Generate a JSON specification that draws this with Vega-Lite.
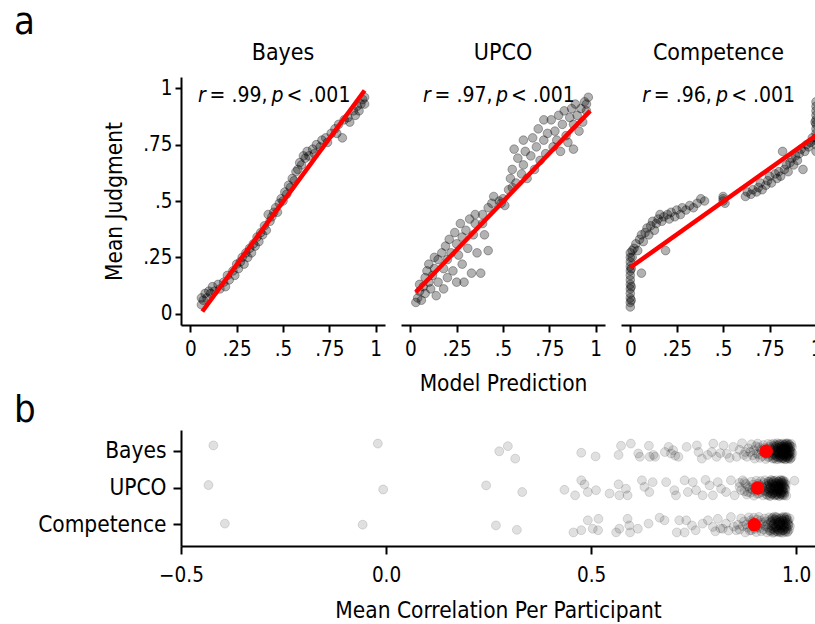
{
"$schema": "https://vega.github.io/schema/vega-lite/v6.json",
"background": "white",
"padding": {"left": 14, "top": 4, "right": 0, "bottom": 0},
"spacing": -3,
"config": {
  "font": "DejaVu Sans Condensed, DejaVu Sans, sans-serif",
  "view": {"stroke": null},
  "axis": {"grid": false, "domainColor": "black", "domainWidth": 2, "tickColor": "black", "tickWidth": 2, "tickSize": 7, "labelColor": "black", "labelFontSize": 20.5, "labelFlush": false, "labelOverlap": false, "titleFontSize": 22.5, "titleFontWeight": "normal", "titleColor": "black", "labelPadding": 7, "titlePadding": 13},
  "title": {"fontSize": 23, "fontWeight": "normal", "color": "black", "offset": 12}
},
"datasets": {
  "bayesA": [{"x":0.06,"y":0.04},{"x":0.06,"y":0.07},{"x":0.07,"y":0.06},{"x":0.08,"y":0.09},{"x":0.09,"y":0.07},{"x":0.10,"y":0.10},{"x":0.11,"y":0.09},{"x":0.12,"y":0.12},{"x":0.13,"y":0.10},{"x":0.15,"y":0.13},{"x":0.16,"y":0.11},{"x":0.18,"y":0.14},{"x":0.19,"y":0.12},{"x":0.20,"y":0.17},{"x":0.21,"y":0.15},{"x":0.23,"y":0.19},{"x":0.24,"y":0.17},{"x":0.25,"y":0.22},{"x":0.26,"y":0.20},{"x":0.27,"y":0.23},{"x":0.28,"y":0.25},{"x":0.29,"y":0.22},{"x":0.30,"y":0.27},{"x":0.31,"y":0.25},{"x":0.32,"y":0.29},{"x":0.33,"y":0.27},{"x":0.34,"y":0.31},{"x":0.35,"y":0.30},{"x":0.36,"y":0.34},{"x":0.37,"y":0.32},{"x":0.38,"y":0.36},{"x":0.39,"y":0.35},{"x":0.40,"y":0.39},{"x":0.41,"y":0.37},{"x":0.42,"y":0.44},{"x":0.43,"y":0.41},{"x":0.44,"y":0.43},{"x":0.45,"y":0.45},{"x":0.46,"y":0.47},{"x":0.47,"y":0.45},{"x":0.48,"y":0.49},{"x":0.49,"y":0.51},{"x":0.50,"y":0.50},{"x":0.51,"y":0.54},{"x":0.52,"y":0.53},{"x":0.53,"y":0.57},{"x":0.54,"y":0.56},{"x":0.55,"y":0.60},{"x":0.56,"y":0.59},{"x":0.57,"y":0.63},{"x":0.58,"y":0.64},{"x":0.59,"y":0.67},{"x":0.60,"y":0.66},{"x":0.61,"y":0.70},{"x":0.62,"y":0.69},{"x":0.63,"y":0.72},{"x":0.64,"y":0.70},{"x":0.66,"y":0.73},{"x":0.67,"y":0.71},{"x":0.68,"y":0.75},{"x":0.70,"y":0.74},{"x":0.71,"y":0.77},{"x":0.73,"y":0.78},{"x":0.74,"y":0.76},{"x":0.76,"y":0.80},{"x":0.78,"y":0.82},{"x":0.79,"y":0.80},{"x":0.80,"y":0.84},{"x":0.82,"y":0.78},{"x":0.83,"y":0.86},{"x":0.85,"y":0.87},{"x":0.86,"y":0.85},{"x":0.88,"y":0.90},{"x":0.89,"y":0.88},{"x":0.90,"y":0.92},{"x":0.91,"y":0.90},{"x":0.92,"y":0.93},{"x":0.93,"y":0.95},{"x":0.94,"y":0.93},{"x":0.94,"y":0.96}],
  "upcoA": [{"x":0.03,"y":0.05},{"x":0.04,"y":0.07},{"x":0.05,"y":0.10},{"x":0.05,"y":0.13},{"x":0.06,"y":0.06},{"x":0.07,"y":0.12},{"x":0.08,"y":0.16},{"x":0.08,"y":0.09},{"x":0.09,"y":0.19},{"x":0.10,"y":0.14},{"x":0.10,"y":0.22},{"x":0.11,"y":0.11},{"x":0.12,"y":0.17},{"x":0.13,"y":0.25},{"x":0.13,"y":0.20},{"x":0.14,"y":0.08},{"x":0.15,"y":0.24},{"x":0.15,"y":0.14},{"x":0.17,"y":0.27},{"x":0.18,"y":0.20},{"x":0.18,"y":0.11},{"x":0.19,"y":0.30},{"x":0.20,"y":0.24},{"x":0.20,"y":0.16},{"x":0.21,"y":0.33},{"x":0.22,"y":0.27},{"x":0.23,"y":0.19},{"x":0.24,"y":0.36},{"x":0.25,"y":0.31},{"x":0.25,"y":0.14},{"x":0.26,"y":0.26},{"x":0.27,"y":0.40},{"x":0.28,"y":0.34},{"x":0.28,"y":0.22},{"x":0.29,"y":0.14},{"x":0.30,"y":0.37},{"x":0.31,"y":0.29},{"x":0.32,"y":0.42},{"x":0.33,"y":0.18},{"x":0.34,"y":0.35},{"x":0.35,"y":0.44},{"x":0.35,"y":0.40},{"x":0.36,"y":0.27},{"x":0.38,"y":0.18},{"x":0.39,"y":0.44},{"x":0.39,"y":0.40},{"x":0.40,"y":0.35},{"x":0.42,"y":0.47},{"x":0.42,"y":0.28},{"x":0.44,"y":0.49},{"x":0.45,"y":0.52},{"x":0.48,"y":0.50},{"x":0.49,"y":0.49},{"x":0.50,"y":0.51},{"x":0.51,"y":0.48},{"x":0.53,"y":0.55},{"x":0.54,"y":0.60},{"x":0.55,"y":0.56},{"x":0.55,"y":0.64},{"x":0.56,"y":0.73},{"x":0.57,"y":0.58},{"x":0.58,"y":0.69},{"x":0.60,"y":0.62},{"x":0.61,"y":0.77},{"x":0.61,"y":0.66},{"x":0.62,"y":0.72},{"x":0.63,"y":0.60},{"x":0.65,"y":0.70},{"x":0.66,"y":0.78},{"x":0.67,"y":0.64},{"x":0.68,"y":0.74},{"x":0.69,"y":0.82},{"x":0.70,"y":0.68},{"x":0.72,"y":0.86},{"x":0.72,"y":0.77},{"x":0.73,"y":0.71},{"x":0.74,"y":0.80},{"x":0.76,"y":0.86},{"x":0.77,"y":0.74},{"x":0.78,"y":0.81},{"x":0.79,"y":0.77},{"x":0.80,"y":0.88},{"x":0.81,"y":0.72},{"x":0.82,"y":0.84},{"x":0.83,"y":0.90},{"x":0.84,"y":0.79},{"x":0.85,"y":0.76},{"x":0.86,"y":0.87},{"x":0.87,"y":0.91},{"x":0.88,"y":0.73},{"x":0.88,"y":0.84},{"x":0.89,"y":0.93},{"x":0.90,"y":0.88},{"x":0.91,"y":0.81},{"x":0.92,"y":0.91},{"x":0.93,"y":0.85},{"x":0.94,"y":0.94},{"x":0.95,"y":0.90},{"x":0.96,"y":0.96},{"x":0.95,"y":0.93}],
  "compA": [{"x":0.0,"y":0.03},{"x":0.0,"y":0.05},{"x":0.0,"y":0.07},{"x":0.0,"y":0.09},{"x":0.0,"y":0.11},{"x":0.0,"y":0.13},{"x":0.0,"y":0.15},{"x":0.0,"y":0.17},{"x":0.0,"y":0.19},{"x":0.0,"y":0.21},{"x":0.0,"y":0.23},{"x":0.0,"y":0.25},{"x":0.0,"y":0.27},{"x":0.005,"y":0.06},{"x":0.005,"y":0.12},{"x":0.005,"y":0.20},{"x":0.01,"y":0.28},{"x":0.01,"y":0.25},{"x":0.02,"y":0.29},{"x":0.03,"y":0.31},{"x":0.04,"y":0.28},{"x":0.05,"y":0.33},{"x":0.06,"y":0.35},{"x":0.06,"y":0.18},{"x":0.07,"y":0.32},{"x":0.08,"y":0.36},{"x":0.09,"y":0.38},{"x":0.10,"y":0.35},{"x":0.11,"y":0.39},{"x":0.12,"y":0.41},{"x":0.13,"y":0.37},{"x":0.14,"y":0.40},{"x":0.15,"y":0.42},{"x":0.16,"y":0.44},{"x":0.17,"y":0.41},{"x":0.18,"y":0.43},{"x":0.19,"y":0.28},{"x":0.20,"y":0.44},{"x":0.21,"y":0.42},{"x":0.22,"y":0.45},{"x":0.24,"y":0.43},{"x":0.25,"y":0.46},{"x":0.27,"y":0.44},{"x":0.28,"y":0.47},{"x":0.30,"y":0.46},{"x":0.32,"y":0.48},{"x":0.34,"y":0.47},{"x":0.36,"y":0.49},{"x":0.38,"y":0.51},{"x":0.40,"y":0.50},{"x":0.50,"y":0.50},{"x":0.50,"y":0.51},{"x":0.51,"y":0.49},{"x":0.50,"y":0.52},{"x":0.62,"y":0.52},{"x":0.63,"y":0.54},{"x":0.65,"y":0.53},{"x":0.66,"y":0.55},{"x":0.68,"y":0.54},{"x":0.69,"y":0.56},{"x":0.70,"y":0.58},{"x":0.71,"y":0.55},{"x":0.73,"y":0.57},{"x":0.74,"y":0.59},{"x":0.75,"y":0.61},{"x":0.76,"y":0.58},{"x":0.78,"y":0.62},{"x":0.79,"y":0.60},{"x":0.80,"y":0.63},{"x":0.81,"y":0.61},{"x":0.82,"y":0.72},{"x":0.83,"y":0.64},{"x":0.84,"y":0.66},{"x":0.85,"y":0.63},{"x":0.86,"y":0.67},{"x":0.87,"y":0.69},{"x":0.88,"y":0.66},{"x":0.89,"y":0.70},{"x":0.90,"y":0.68},{"x":0.91,"y":0.71},{"x":0.92,"y":0.73},{"x":0.93,"y":0.64},{"x":0.94,"y":0.72},{"x":0.95,"y":0.75},{"x":0.96,"y":0.74},{"x":0.97,"y":0.76},{"x":0.98,"y":0.78},{"x":1.0,"y":0.72},{"x":1.0,"y":0.75},{"x":1.0,"y":0.78},{"x":1.0,"y":0.80},{"x":1.0,"y":0.82},{"x":1.0,"y":0.84},{"x":1.0,"y":0.86},{"x":1.0,"y":0.88},{"x":1.0,"y":0.90},{"x":1.0,"y":0.92},{"x":1.0,"y":0.94},{"x":0.995,"y":0.77},{"x":0.995,"y":0.85}],
  "fitLines": [{"m":"Bayes","x":0.065,"y":0.01},{"m":"Bayes","x":0.94,"y":0.99},{"m":"UPCO","x":0.03,"y":0.095},{"m":"UPCO","x":0.97,"y":0.90},{"m":"Competence","x":0.0,"y":0.205},{"m":"Competence","x":1.0,"y":0.79}],
  "statSymbols": [{"m":"Bayes","x":0.041,"y":0.94,"t":"r"},{"m":"Bayes","x":0.438,"y":0.94,"t":"p"},{"m":"UPCO","x":0.068,"y":0.94,"t":"r"},{"m":"UPCO","x":0.462,"y":0.94,"t":"p"},{"m":"Competence","x":0.064,"y":0.94,"t":"r"},{"m":"Competence","x":0.462,"y":0.94,"t":"p"}],
  "statValues": [{"m":"Bayes","x":0.104,"y":0.94,"t":"= .99,"},{"m":"Bayes","x":0.519,"y":0.94,"t":"< .001"},{"m":"UPCO","x":0.131,"y":0.94,"t":"= .97,"},{"m":"UPCO","x":0.543,"y":0.94,"t":"< .001"},{"m":"Competence","x":0.127,"y":0.94,"t":"= .96,"},{"m":"Competence","x":0.543,"y":0.94,"t":"< .001"}],
  "means": [{"m":"Bayes","c":0.927},{"m":"UPCO","c":0.906},{"m":"Competence","c":0.898}],
  "corr": [
{"m":"Bayes","c":-0.421,"j":-0.16},{"m":"Bayes","c":-0.02,"j":-0.21},{"m":"Bayes","c":0.276,"j":0.0},{"m":"Bayes","c":0.297,"j":-0.14},{"m":"Bayes","c":0.315,"j":0.2},{"m":"Bayes","c":0.476,"j":0.04},{"m":"Bayes","c":0.511,"j":0.14},{"m":"Bayes","c":0.567,"j":0.1},{"m":"Bayes","c":0.573,"j":-0.15},{"m":"Bayes","c":0.597,"j":-0.21},{"m":"Bayes","c":0.615,"j":0.06},{"m":"Bayes","c":0.619,"j":0.15},{"m":"Bayes","c":0.641,"j":-0.15},{"m":"Bayes","c":0.643,"j":0.15},{"m":"Bayes","c":0.652,"j":0.1},{"m":"Bayes","c":0.656,"j":0.15},{"m":"Bayes","c":0.68,"j":0.02},{"m":"Bayes","c":0.689,"j":-0.12},{"m":"Bayes","c":0.695,"j":0.06},{"m":"Bayes","c":0.70,"j":-0.03},{"m":"Bayes","c":0.705,"j":0.12},{"m":"Bayes","c":0.713,"j":0.15},{"m":"Bayes","c":0.733,"j":-0.12},{"m":"Bayes","c":0.758,"j":-0.16},{"m":"Bayes","c":0.762,"j":0.02},{"m":"Bayes","c":0.77,"j":0.2},{"m":"Bayes","c":0.784,"j":0.1},{"m":"Bayes","c":0.794,"j":0.02},{"m":"Bayes","c":0.798,"j":-0.21},{"m":"Bayes","c":0.806,"j":0.15},{"m":"Bayes","c":0.815,"j":0.05},{"m":"Bayes","c":0.823,"j":-0.16},{"m":"Bayes","c":0.831,"j":0.07},{"m":"Bayes","c":0.838,"j":0.18},{"m":"Bayes","c":0.847,"j":-0.12},{"m":"Bayes","c":0.855,"j":0.15},{"m":"Bayes","c":0.862,"j":-0.04},{"m":"Bayes","c":0.868,"j":-0.22},{"m":"Bayes","c":0.872,"j":0.1},{"m":"Bayes","c":0.876,"j":0.02},
{"m":"Bayes","c":0.880,"j":0.15},{"m":"Bayes","c":0.884,"j":-0.08},{"m":"Bayes","c":0.888,"j":0.02},{"m":"Bayes","c":0.891,"j":-0.19},{"m":"Bayes","c":0.894,"j":0.11},{"m":"Bayes","c":0.897,"j":-0.03},{"m":"Bayes","c":0.899,"j":0.2},{"m":"Bayes","c":0.902,"j":-0.14},{"m":"Bayes","c":0.904,"j":0.06},{"m":"Bayes","c":0.906,"j":-0.21},{"m":"Bayes","c":0.908,"j":0.09},{"m":"Bayes","c":0.910,"j":-0.11},{"m":"Bayes","c":0.912,"j":0.18},{"m":"Bayes","c":0.914,"j":-0.05},{"m":"Bayes","c":0.916,"j":0.0},{"m":"Bayes","c":0.918,"j":0.13},{"m":"Bayes","c":0.920,"j":-0.17},{"m":"Bayes","c":0.922,"j":0.04},{"m":"Bayes","c":0.924,"j":-0.09},{"m":"Bayes","c":0.926,"j":0.21},{"m":"Bayes","c":0.928,"j":-0.01},{"m":"Bayes","c":0.929,"j":0.08},{"m":"Bayes","c":0.931,"j":-0.2},{"m":"Bayes","c":0.932,"j":0.16},{"m":"Bayes","c":0.934,"j":-0.12},
{"m":"Bayes","c":0.935,"j":0.15},{"m":"Bayes","c":0.937,"j":-0.08},{"m":"Bayes","c":0.938,"j":0.02},{"m":"Bayes","c":0.939,"j":-0.19},{"m":"Bayes","c":0.941,"j":0.11},{"m":"Bayes","c":0.942,"j":-0.03},{"m":"Bayes","c":0.943,"j":0.2},{"m":"Bayes","c":0.944,"j":-0.14},{"m":"Bayes","c":0.945,"j":0.06},{"m":"Bayes","c":0.946,"j":-0.21},{"m":"Bayes","c":0.947,"j":0.09},{"m":"Bayes","c":0.948,"j":-0.11},{"m":"Bayes","c":0.949,"j":0.18},{"m":"Bayes","c":0.950,"j":-0.05},{"m":"Bayes","c":0.951,"j":0.0},{"m":"Bayes","c":0.952,"j":0.13},{"m":"Bayes","c":0.953,"j":-0.17},{"m":"Bayes","c":0.954,"j":0.04},{"m":"Bayes","c":0.955,"j":-0.09},{"m":"Bayes","c":0.956,"j":0.21},{"m":"Bayes","c":0.957,"j":-0.01},{"m":"Bayes","c":0.958,"j":0.08},{"m":"Bayes","c":0.959,"j":-0.2},{"m":"Bayes","c":0.960,"j":0.16},{"m":"Bayes","c":0.961,"j":-0.12},
{"m":"Bayes","c":0.961,"j":0.15},{"m":"Bayes","c":0.962,"j":-0.08},{"m":"Bayes","c":0.963,"j":0.02},{"m":"Bayes","c":0.964,"j":-0.19},{"m":"Bayes","c":0.964,"j":0.11},{"m":"Bayes","c":0.965,"j":-0.03},{"m":"Bayes","c":0.966,"j":0.2},{"m":"Bayes","c":0.966,"j":-0.14},{"m":"Bayes","c":0.967,"j":0.06},{"m":"Bayes","c":0.968,"j":-0.21},{"m":"Bayes","c":0.968,"j":0.09},{"m":"Bayes","c":0.969,"j":-0.11},{"m":"Bayes","c":0.969,"j":0.18},{"m":"Bayes","c":0.970,"j":-0.05},{"m":"Bayes","c":0.970,"j":0.0},{"m":"Bayes","c":0.971,"j":0.13},{"m":"Bayes","c":0.971,"j":-0.17},{"m":"Bayes","c":0.972,"j":0.04},{"m":"Bayes","c":0.972,"j":-0.09},{"m":"Bayes","c":0.973,"j":0.21},{"m":"Bayes","c":0.973,"j":-0.01},{"m":"Bayes","c":0.974,"j":0.08},{"m":"Bayes","c":0.974,"j":-0.2},{"m":"Bayes","c":0.975,"j":0.16},{"m":"Bayes","c":0.975,"j":-0.12},
{"m":"Bayes","c":0.976,"j":0.15},{"m":"Bayes","c":0.976,"j":-0.08},{"m":"Bayes","c":0.977,"j":0.02},{"m":"Bayes","c":0.977,"j":-0.19},{"m":"Bayes","c":0.978,"j":0.11},{"m":"Bayes","c":0.978,"j":-0.03},{"m":"Bayes","c":0.979,"j":0.2},{"m":"Bayes","c":0.979,"j":-0.14},{"m":"Bayes","c":0.980,"j":0.06},{"m":"Bayes","c":0.980,"j":-0.21},{"m":"Bayes","c":0.981,"j":0.09},{"m":"Bayes","c":0.981,"j":-0.11},{"m":"Bayes","c":0.982,"j":0.18},{"m":"Bayes","c":0.982,"j":-0.05},{"m":"Bayes","c":0.983,"j":0.0},{"m":"Bayes","c":0.983,"j":0.13},{"m":"Bayes","c":0.984,"j":-0.17},{"m":"Bayes","c":0.984,"j":0.04},{"m":"Bayes","c":0.985,"j":-0.09},{"m":"Bayes","c":0.985,"j":0.21},{"m":"Bayes","c":0.986,"j":-0.01},{"m":"Bayes","c":0.987,"j":0.08},{"m":"Bayes","c":0.988,"j":-0.2},{"m":"Bayes","c":0.989,"j":0.16},{"m":"Bayes","c":0.990,"j":-0.12},{"m":"Bayes","c":0.991,"j":0.05},
{"m":"Bayes","c":0.945,"j":0.19},{"m":"Bayes","c":0.946,"j":-0.06},{"m":"Bayes","c":0.947,"j":0.1},{"m":"Bayes","c":0.948,"j":-0.17},{"m":"Bayes","c":0.949,"j":0.03},{"m":"Bayes","c":0.950,"j":-0.12},{"m":"Bayes","c":0.951,"j":0.22},{"m":"Bayes","c":0.952,"j":-0.02},{"m":"Bayes","c":0.953,"j":0.14},{"m":"Bayes","c":0.954,"j":-0.22},{"m":"Bayes","c":0.955,"j":0.07},{"m":"Bayes","c":0.956,"j":-0.15},{"m":"Bayes","c":0.957,"j":0.17},{"m":"Bayes","c":0.958,"j":-0.09},{"m":"Bayes","c":0.959,"j":0.05},{"m":"Bayes","c":0.960,"j":-0.19},{"m":"Bayes","c":0.961,"j":0.12},{"m":"Bayes","c":0.962,"j":-0.04},{"m":"Bayes","c":0.963,"j":0.2},{"m":"Bayes","c":0.964,"j":-0.13},{"m":"Bayes","c":0.965,"j":0.01},{"m":"Bayes","c":0.966,"j":0.16},{"m":"Bayes","c":0.967,"j":-0.07},{"m":"Bayes","c":0.968,"j":0.19},{"m":"Bayes","c":0.969,"j":-0.06},{"m":"Bayes","c":0.970,"j":0.1},{"m":"Bayes","c":0.971,"j":-0.17},{"m":"Bayes","c":0.972,"j":0.03},{"m":"Bayes","c":0.973,"j":-0.12},{"m":"Bayes","c":0.974,"j":0.22},{"m":"Bayes","c":0.975,"j":-0.02},{"m":"Bayes","c":0.976,"j":0.14},{"m":"Bayes","c":0.977,"j":-0.22},{"m":"Bayes","c":0.978,"j":0.07},{"m":"Bayes","c":0.979,"j":-0.15},{"m":"Bayes","c":0.980,"j":0.17},{"m":"Bayes","c":0.981,"j":-0.09},{"m":"Bayes","c":0.982,"j":0.05},{"m":"Bayes","c":0.983,"j":-0.19},{"m":"Bayes","c":0.984,"j":0.12},{"m":"Bayes","c":0.985,"j":-0.04},{"m":"Bayes","c":0.986,"j":0.2},{"m":"Bayes","c":0.987,"j":-0.13},{"m":"Bayes","c":0.988,"j":0.01},
{"m":"UPCO","c":-0.433,"j":-0.08},{"m":"UPCO","c":-0.007,"j":0.04},{"m":"UPCO","c":0.244,"j":-0.07},{"m":"UPCO","c":0.332,"j":0.11},{"m":"UPCO","c":0.435,"j":0.05},{"m":"UPCO","c":0.461,"j":0.2},{"m":"UPCO","c":0.476,"j":-0.21},{"m":"UPCO","c":0.484,"j":-0.1},{"m":"UPCO","c":0.492,"j":0.11},{"m":"UPCO","c":0.512,"j":0.06},{"m":"UPCO","c":0.545,"j":0.15},{"m":"UPCO","c":0.567,"j":-0.1},{"m":"UPCO","c":0.569,"j":0.2},{"m":"UPCO","c":0.585,"j":0.02},{"m":"UPCO","c":0.589,"j":0.2},{"m":"UPCO","c":0.624,"j":-0.21},{"m":"UPCO","c":0.63,"j":-0.03},{"m":"UPCO","c":0.642,"j":0.11},{"m":"UPCO","c":0.65,"j":-0.16},{"m":"UPCO","c":0.683,"j":-0.16},{"m":"UPCO","c":0.703,"j":0.06},{"m":"UPCO","c":0.707,"j":0.2},{"m":"UPCO","c":0.728,"j":-0.21},{"m":"UPCO","c":0.736,"j":0.11},{"m":"UPCO","c":0.748,"j":-0.16},{"m":"UPCO","c":0.756,"j":0.06},{"m":"UPCO","c":0.772,"j":0.2},{"m":"UPCO","c":0.779,"j":-0.22},{"m":"UPCO","c":0.789,"j":-0.07},{"m":"UPCO","c":0.797,"j":0.2},{"m":"UPCO","c":0.809,"j":-0.16},{"m":"UPCO","c":0.817,"j":0.02},{"m":"UPCO","c":0.829,"j":0.11},{"m":"UPCO","c":0.841,"j":-0.21},{"m":"UPCO","c":0.85,"j":0.2},{"m":"UPCO","c":0.862,"j":-0.03},{"m":"UPCO","c":0.874,"j":-0.16},{"m":"UPCO","c":0.882,"j":0.11},{"m":"UPCO","c":0.996,"j":-0.2},
{"m":"UPCO","c":0.862,"j":-0.14},{"m":"UPCO","c":0.866,"j":0.06},{"m":"UPCO","c":0.870,"j":-0.21},{"m":"UPCO","c":0.874,"j":0.09},{"m":"UPCO","c":0.877,"j":-0.11},{"m":"UPCO","c":0.880,"j":0.18},{"m":"UPCO","c":0.883,"j":-0.05},{"m":"UPCO","c":0.886,"j":0.0},{"m":"UPCO","c":0.889,"j":0.13},{"m":"UPCO","c":0.891,"j":-0.17},{"m":"UPCO","c":0.893,"j":0.04},{"m":"UPCO","c":0.895,"j":-0.09},{"m":"UPCO","c":0.897,"j":0.21},{"m":"UPCO","c":0.899,"j":-0.01},{"m":"UPCO","c":0.901,"j":0.08},{"m":"UPCO","c":0.903,"j":-0.2},{"m":"UPCO","c":0.905,"j":0.16},{"m":"UPCO","c":0.907,"j":-0.12},{"m":"UPCO","c":0.909,"j":0.15},{"m":"UPCO","c":0.911,"j":-0.08},{"m":"UPCO","c":0.913,"j":0.02},{"m":"UPCO","c":0.914,"j":-0.19},{"m":"UPCO","c":0.916,"j":0.11},{"m":"UPCO","c":0.918,"j":-0.03},{"m":"UPCO","c":0.919,"j":0.2},
{"m":"UPCO","c":0.921,"j":-0.14},{"m":"UPCO","c":0.922,"j":0.06},{"m":"UPCO","c":0.924,"j":-0.21},{"m":"UPCO","c":0.925,"j":0.09},{"m":"UPCO","c":0.927,"j":-0.11},{"m":"UPCO","c":0.928,"j":0.18},{"m":"UPCO","c":0.929,"j":-0.05},{"m":"UPCO","c":0.931,"j":0.0},{"m":"UPCO","c":0.932,"j":0.13},{"m":"UPCO","c":0.933,"j":-0.17},{"m":"UPCO","c":0.934,"j":0.04},{"m":"UPCO","c":0.936,"j":-0.09},{"m":"UPCO","c":0.937,"j":0.21},{"m":"UPCO","c":0.938,"j":-0.01},{"m":"UPCO","c":0.939,"j":0.08},{"m":"UPCO","c":0.940,"j":-0.2},{"m":"UPCO","c":0.941,"j":0.16},{"m":"UPCO","c":0.942,"j":-0.12},{"m":"UPCO","c":0.943,"j":0.15},{"m":"UPCO","c":0.944,"j":-0.08},{"m":"UPCO","c":0.945,"j":0.02},{"m":"UPCO","c":0.946,"j":-0.19},{"m":"UPCO","c":0.947,"j":0.11},{"m":"UPCO","c":0.948,"j":-0.03},{"m":"UPCO","c":0.949,"j":0.2},
{"m":"UPCO","c":0.950,"j":-0.14},{"m":"UPCO","c":0.951,"j":0.06},{"m":"UPCO","c":0.952,"j":-0.21},{"m":"UPCO","c":0.953,"j":0.09},{"m":"UPCO","c":0.953,"j":-0.11},{"m":"UPCO","c":0.954,"j":0.18},{"m":"UPCO","c":0.955,"j":-0.05},{"m":"UPCO","c":0.956,"j":0.0},{"m":"UPCO","c":0.956,"j":0.13},{"m":"UPCO","c":0.957,"j":-0.17},{"m":"UPCO","c":0.958,"j":0.04},{"m":"UPCO","c":0.958,"j":-0.09},{"m":"UPCO","c":0.959,"j":0.21},{"m":"UPCO","c":0.960,"j":-0.01},{"m":"UPCO","c":0.960,"j":0.08},{"m":"UPCO","c":0.961,"j":-0.2},{"m":"UPCO","c":0.962,"j":0.16},{"m":"UPCO","c":0.962,"j":-0.12},{"m":"UPCO","c":0.963,"j":0.15},{"m":"UPCO","c":0.963,"j":-0.08},{"m":"UPCO","c":0.964,"j":0.02},{"m":"UPCO","c":0.965,"j":-0.19},{"m":"UPCO","c":0.965,"j":0.11},{"m":"UPCO","c":0.966,"j":-0.03},{"m":"UPCO","c":0.966,"j":0.2},
{"m":"UPCO","c":0.967,"j":-0.14},{"m":"UPCO","c":0.967,"j":0.06},{"m":"UPCO","c":0.968,"j":-0.21},{"m":"UPCO","c":0.968,"j":0.09},{"m":"UPCO","c":0.969,"j":-0.11},{"m":"UPCO","c":0.970,"j":0.18},{"m":"UPCO","c":0.970,"j":-0.05},{"m":"UPCO","c":0.971,"j":0.0},{"m":"UPCO","c":0.972,"j":0.13},{"m":"UPCO","c":0.973,"j":-0.17},{"m":"UPCO","c":0.974,"j":0.04},{"m":"UPCO","c":0.975,"j":-0.09},{"m":"UPCO","c":0.976,"j":0.21},
{"m":"UPCO","c":0.930,"j":0.19},{"m":"UPCO","c":0.931,"j":-0.06},{"m":"UPCO","c":0.932,"j":0.1},{"m":"UPCO","c":0.933,"j":-0.17},{"m":"UPCO","c":0.934,"j":0.03},{"m":"UPCO","c":0.935,"j":-0.12},{"m":"UPCO","c":0.936,"j":0.22},{"m":"UPCO","c":0.937,"j":-0.02},{"m":"UPCO","c":0.938,"j":0.14},{"m":"UPCO","c":0.939,"j":-0.22},{"m":"UPCO","c":0.940,"j":0.07},{"m":"UPCO","c":0.941,"j":-0.15},{"m":"UPCO","c":0.942,"j":0.17},{"m":"UPCO","c":0.943,"j":-0.09},{"m":"UPCO","c":0.944,"j":0.05},{"m":"UPCO","c":0.945,"j":-0.19},{"m":"UPCO","c":0.946,"j":0.12},{"m":"UPCO","c":0.947,"j":-0.04},{"m":"UPCO","c":0.948,"j":0.2},{"m":"UPCO","c":0.949,"j":-0.13},{"m":"UPCO","c":0.950,"j":0.01},{"m":"UPCO","c":0.951,"j":0.16},{"m":"UPCO","c":0.952,"j":-0.07},{"m":"UPCO","c":0.953,"j":0.19},{"m":"UPCO","c":0.954,"j":-0.06},{"m":"UPCO","c":0.955,"j":0.1},{"m":"UPCO","c":0.956,"j":-0.17},{"m":"UPCO","c":0.957,"j":0.03},{"m":"UPCO","c":0.958,"j":-0.12},{"m":"UPCO","c":0.959,"j":0.22},{"m":"UPCO","c":0.960,"j":-0.02},{"m":"UPCO","c":0.961,"j":0.14},{"m":"UPCO","c":0.962,"j":-0.22},{"m":"UPCO","c":0.963,"j":0.07},{"m":"UPCO","c":0.964,"j":-0.15},{"m":"UPCO","c":0.965,"j":0.17},{"m":"UPCO","c":0.966,"j":-0.09},{"m":"UPCO","c":0.967,"j":0.05},{"m":"UPCO","c":0.968,"j":-0.19},{"m":"UPCO","c":0.969,"j":0.12},{"m":"UPCO","c":0.970,"j":-0.04},{"m":"UPCO","c":0.971,"j":0.2},{"m":"UPCO","c":0.972,"j":-0.13},{"m":"UPCO","c":0.973,"j":0.01},
{"m":"Competence","c":-0.393,"j":-0.03},{"m":"Competence","c":-0.057,"j":0.0},{"m":"Competence","c":0.268,"j":0.02},{"m":"Competence","c":0.319,"j":0.14},{"m":"Competence","c":0.457,"j":0.21},{"m":"Competence","c":0.476,"j":0.15},{"m":"Competence","c":0.492,"j":-0.12},{"m":"Competence","c":0.504,"j":0.11},{"m":"Competence","c":0.518,"j":-0.16},{"m":"Competence","c":0.517,"j":0.15},{"m":"Competence","c":0.561,"j":0.21},{"m":"Competence","c":0.569,"j":0.11},{"m":"Competence","c":0.589,"j":-0.16},{"m":"Competence","c":0.593,"j":0.02},{"m":"Competence","c":0.595,"j":0.21},{"m":"Competence","c":0.614,"j":0.11},{"m":"Competence","c":0.64,"j":-0.03},{"m":"Competence","c":0.667,"j":-0.19},{"m":"Competence","c":0.679,"j":-0.12},{"m":"Competence","c":0.709,"j":0.21},{"m":"Competence","c":0.715,"j":-0.12},{"m":"Competence","c":0.728,"j":0.21},{"m":"Competence","c":0.732,"j":-0.12},{"m":"Competence","c":0.746,"j":0.02},{"m":"Competence","c":0.755,"j":0.15},{"m":"Competence","c":0.772,"j":-0.03},{"m":"Competence","c":0.785,"j":-0.12},{"m":"Competence","c":0.797,"j":0.06},{"m":"Competence","c":0.803,"j":0.18},{"m":"Competence","c":0.809,"j":-0.16},{"m":"Competence","c":0.815,"j":0.1},{"m":"Competence","c":0.821,"j":0.11},{"m":"Competence","c":0.829,"j":-0.03},{"m":"Competence","c":0.835,"j":0.16},{"m":"Competence","c":0.841,"j":-0.21},{"m":"Competence","c":0.848,"j":0.05},{"m":"Competence","c":0.854,"j":0.15},
{"m":"Competence","c":0.858,"j":0.0},{"m":"Competence","c":0.862,"j":0.13},{"m":"Competence","c":0.866,"j":-0.17},{"m":"Competence","c":0.870,"j":0.04},{"m":"Competence","c":0.873,"j":-0.09},{"m":"Competence","c":0.876,"j":0.21},{"m":"Competence","c":0.879,"j":-0.01},{"m":"Competence","c":0.882,"j":0.08},{"m":"Competence","c":0.885,"j":-0.2},{"m":"Competence","c":0.887,"j":0.16},{"m":"Competence","c":0.889,"j":-0.12},{"m":"Competence","c":0.891,"j":0.15},{"m":"Competence","c":0.893,"j":-0.08},{"m":"Competence","c":0.895,"j":0.02},{"m":"Competence","c":0.897,"j":-0.19},{"m":"Competence","c":0.899,"j":0.11},{"m":"Competence","c":0.901,"j":-0.03},{"m":"Competence","c":0.903,"j":0.2},{"m":"Competence","c":0.905,"j":-0.14},{"m":"Competence","c":0.907,"j":0.06},{"m":"Competence","c":0.909,"j":-0.21},{"m":"Competence","c":0.911,"j":0.09},{"m":"Competence","c":0.913,"j":-0.11},{"m":"Competence","c":0.915,"j":0.18},{"m":"Competence","c":0.917,"j":-0.05},
{"m":"Competence","c":0.919,"j":0.0},{"m":"Competence","c":0.921,"j":0.13},{"m":"Competence","c":0.923,"j":-0.17},{"m":"Competence","c":0.925,"j":0.04},{"m":"Competence","c":0.927,"j":-0.09},{"m":"Competence","c":0.929,"j":0.21},{"m":"Competence","c":0.931,"j":-0.01},{"m":"Competence","c":0.932,"j":0.08},{"m":"Competence","c":0.934,"j":-0.2},{"m":"Competence","c":0.935,"j":0.16},{"m":"Competence","c":0.937,"j":-0.12},{"m":"Competence","c":0.938,"j":0.15},{"m":"Competence","c":0.940,"j":-0.08},{"m":"Competence","c":0.941,"j":0.02},{"m":"Competence","c":0.943,"j":-0.19},{"m":"Competence","c":0.944,"j":0.11},{"m":"Competence","c":0.946,"j":-0.03},{"m":"Competence","c":0.947,"j":0.2},{"m":"Competence","c":0.948,"j":-0.14},{"m":"Competence","c":0.950,"j":0.06},{"m":"Competence","c":0.951,"j":-0.21},{"m":"Competence","c":0.952,"j":0.09},{"m":"Competence","c":0.953,"j":-0.11},{"m":"Competence","c":0.954,"j":0.18},{"m":"Competence","c":0.956,"j":-0.05},
{"m":"Competence","c":0.957,"j":0.0},{"m":"Competence","c":0.958,"j":0.13},{"m":"Competence","c":0.959,"j":-0.17},{"m":"Competence","c":0.960,"j":0.04},{"m":"Competence","c":0.961,"j":-0.09},{"m":"Competence","c":0.962,"j":0.21},{"m":"Competence","c":0.963,"j":-0.01},{"m":"Competence","c":0.964,"j":0.08},{"m":"Competence","c":0.965,"j":-0.2},{"m":"Competence","c":0.966,"j":0.16},{"m":"Competence","c":0.967,"j":-0.12},{"m":"Competence","c":0.968,"j":0.15},{"m":"Competence","c":0.969,"j":-0.08},{"m":"Competence","c":0.970,"j":0.02},{"m":"Competence","c":0.971,"j":-0.19},{"m":"Competence","c":0.972,"j":0.11},{"m":"Competence","c":0.973,"j":-0.03},{"m":"Competence","c":0.974,"j":0.2},{"m":"Competence","c":0.975,"j":-0.14},{"m":"Competence","c":0.976,"j":0.06},{"m":"Competence","c":0.977,"j":-0.21},{"m":"Competence","c":0.978,"j":0.09},{"m":"Competence","c":0.979,"j":-0.11},{"m":"Competence","c":0.980,"j":0.18},{"m":"Competence","c":0.981,"j":-0.05},{"m":"Competence","c":0.982,"j":0.0},{"m":"Competence","c":0.983,"j":0.13},{"m":"Competence","c":0.984,"j":-0.17},{"m":"Competence","c":0.985,"j":0.04},
{"m":"Competence","c":0.938,"j":0.19},{"m":"Competence","c":0.939,"j":-0.06},{"m":"Competence","c":0.940,"j":0.1},{"m":"Competence","c":0.941,"j":-0.17},{"m":"Competence","c":0.942,"j":0.03},{"m":"Competence","c":0.943,"j":-0.12},{"m":"Competence","c":0.944,"j":0.22},{"m":"Competence","c":0.945,"j":-0.02},{"m":"Competence","c":0.946,"j":0.14},{"m":"Competence","c":0.947,"j":-0.22},{"m":"Competence","c":0.948,"j":0.07},{"m":"Competence","c":0.949,"j":-0.15},{"m":"Competence","c":0.950,"j":0.17},{"m":"Competence","c":0.951,"j":-0.09},{"m":"Competence","c":0.952,"j":0.05},{"m":"Competence","c":0.953,"j":-0.19},{"m":"Competence","c":0.954,"j":0.12},{"m":"Competence","c":0.955,"j":-0.04},{"m":"Competence","c":0.956,"j":0.2},{"m":"Competence","c":0.957,"j":-0.13},{"m":"Competence","c":0.958,"j":0.01},{"m":"Competence","c":0.959,"j":0.16},{"m":"Competence","c":0.960,"j":-0.07},{"m":"Competence","c":0.961,"j":0.19},{"m":"Competence","c":0.962,"j":-0.06},{"m":"Competence","c":0.963,"j":0.1},{"m":"Competence","c":0.964,"j":-0.17},{"m":"Competence","c":0.965,"j":0.03},{"m":"Competence","c":0.966,"j":-0.12},{"m":"Competence","c":0.967,"j":0.22},{"m":"Competence","c":0.968,"j":-0.02},{"m":"Competence","c":0.969,"j":0.14},{"m":"Competence","c":0.970,"j":-0.22},{"m":"Competence","c":0.971,"j":0.07},{"m":"Competence","c":0.972,"j":-0.15},{"m":"Competence","c":0.973,"j":0.17},{"m":"Competence","c":0.974,"j":-0.09},{"m":"Competence","c":0.975,"j":0.05},{"m":"Competence","c":0.976,"j":-0.19},{"m":"Competence","c":0.977,"j":0.12},{"m":"Competence","c":0.978,"j":-0.04},{"m":"Competence","c":0.979,"j":0.2},{"m":"Competence","c":0.980,"j":-0.13},{"m":"Competence","c":0.981,"j":0.01}
  ]
},
"vconcat": [
  {
    "title": {"text": "a", "fontSize": 38, "anchor": "start", "frame": "group", "dx": -167, "offset": 0},
    "spacing": 16,
    "hconcat": [
      {
        "width": 204, "height": 248,
        "title": "Bayes",
        "layer": [
          {"data": {"name": "bayesA"}, "mark": {"type": "point", "filled": true, "size": 75, "fill": "black", "fillOpacity": 0.3, "stroke": "black", "strokeOpacity": 0.3, "strokeWidth": 1},
           "encoding": {
             "x": {"field": "x", "type": "quantitative", "scale": {"domain": [-0.05, 1.05], "nice": false, "zero": false}, "axis": {"values": [0, 0.25, 0.5, 0.75, 1], "labelExpr": "datum.value == 0 ? '0' : datum.value == 1 ? '1' : replace(format(datum.value, '.2~f'), '0.', '.')", "title": null}},
             "y": {"field": "y", "type": "quantitative", "scale": {"domain": [-0.05, 1.05], "nice": false, "zero": false}, "axis": {"values": [0, 0.25, 0.5, 0.75, 1], "labelExpr": "datum.value == 0 ? '0' : datum.value == 1 ? '1' : replace(format(datum.value, '.2~f'), '0.', '.')", "title": "Mean Judgment", "tickSize": 6, "labelPadding": 3, "titlePadding": 16}}
           }},
          {"data": {"name": "fitLines"}, "transform": [{"filter": "datum.m == 'Bayes'"}], "mark": {"type": "line", "color": "red", "strokeWidth": 4.5},
           "encoding": {"x": {"field": "x", "type": "quantitative"}, "y": {"field": "y", "type": "quantitative"}}},
          {"data": {"name": "statSymbols"}, "transform": [{"filter": "datum.m == 'Bayes'"}], "mark": {"type": "text", "fontStyle": "italic", "align": "left", "baseline": "alphabetic", "fontSize": 21, "color": "black"},
           "encoding": {"x": {"field": "x", "type": "quantitative"}, "y": {"field": "y", "type": "quantitative"}, "text": {"field": "t"}}},
          {"data": {"name": "statValues"}, "transform": [{"filter": "datum.m == 'Bayes'"}], "mark": {"type": "text", "align": "left", "baseline": "alphabetic", "fontSize": 21, "color": "black"},
           "encoding": {"x": {"field": "x", "type": "quantitative"}, "y": {"field": "y", "type": "quantitative"}, "text": {"field": "t"}}}
        ]
      },
      {
        "width": 204, "height": 248,
        "title": "UPCO",
        "layer": [
          {"data": {"name": "upcoA"}, "mark": {"type": "point", "filled": true, "size": 75, "fill": "black", "fillOpacity": 0.3, "stroke": "black", "strokeOpacity": 0.3, "strokeWidth": 1},
           "encoding": {
             "x": {"field": "x", "type": "quantitative", "scale": {"domain": [-0.05, 1.05], "nice": false, "zero": false}, "axis": {"values": [0, 0.25, 0.5, 0.75, 1], "labelExpr": "datum.value == 0 ? '0' : datum.value == 1 ? '1' : replace(format(datum.value, '.2~f'), '0.', '.')", "title": "Model Prediction"}},
             "y": {"field": "y", "type": "quantitative", "scale": {"domain": [-0.05, 1.05], "nice": false, "zero": false}, "axis": null}
           }},
          {"data": {"name": "fitLines"}, "transform": [{"filter": "datum.m == 'UPCO'"}], "mark": {"type": "line", "color": "red", "strokeWidth": 4.5},
           "encoding": {"x": {"field": "x", "type": "quantitative"}, "y": {"field": "y", "type": "quantitative"}}},
          {"data": {"name": "statSymbols"}, "transform": [{"filter": "datum.m == 'UPCO'"}], "mark": {"type": "text", "fontStyle": "italic", "align": "left", "baseline": "alphabetic", "fontSize": 21, "color": "black"},
           "encoding": {"x": {"field": "x", "type": "quantitative"}, "y": {"field": "y", "type": "quantitative"}, "text": {"field": "t"}}},
          {"data": {"name": "statValues"}, "transform": [{"filter": "datum.m == 'UPCO'"}], "mark": {"type": "text", "align": "left", "baseline": "alphabetic", "fontSize": 21, "color": "black"},
           "encoding": {"x": {"field": "x", "type": "quantitative"}, "y": {"field": "y", "type": "quantitative"}, "text": {"field": "t"}}}
        ]
      },
      {
        "width": 195, "height": 248,
        "title": "Competence",
        "layer": [
          {"data": {"name": "compA"}, "mark": {"type": "point", "filled": true, "size": 75, "fill": "black", "fillOpacity": 0.3, "stroke": "black", "strokeOpacity": 0.3, "strokeWidth": 1, "clip": true},
           "encoding": {
             "x": {"field": "x", "type": "quantitative", "scale": {"domain": [-0.05, 1.0], "nice": false, "zero": false}, "axis": {"values": [0, 0.25, 0.5, 0.75, 1], "labelExpr": "datum.value == 0 ? '0' : datum.value == 1 ? '1' : replace(format(datum.value, '.2~f'), '0.', '.')", "title": null}},
             "y": {"field": "y", "type": "quantitative", "scale": {"domain": [-0.05, 1.05], "nice": false, "zero": false}, "axis": null}
           }},
          {"data": {"name": "fitLines"}, "transform": [{"filter": "datum.m == 'Competence'"}], "mark": {"type": "line", "color": "red", "strokeWidth": 4.5, "clip": true},
           "encoding": {"x": {"field": "x", "type": "quantitative"}, "y": {"field": "y", "type": "quantitative"}}},
          {"data": {"name": "statSymbols"}, "transform": [{"filter": "datum.m == 'Competence'"}], "mark": {"type": "text", "fontStyle": "italic", "align": "left", "baseline": "alphabetic", "fontSize": 21, "color": "black"},
           "encoding": {"x": {"field": "x", "type": "quantitative"}, "y": {"field": "y", "type": "quantitative"}, "text": {"field": "t"}}},
          {"data": {"name": "statValues"}, "transform": [{"filter": "datum.m == 'Competence'"}], "mark": {"type": "text", "align": "left", "baseline": "alphabetic", "fontSize": 21, "color": "black"},
           "encoding": {"x": {"field": "x", "type": "quantitative"}, "y": {"field": "y", "type": "quantitative"}, "text": {"field": "t"}}}
        ]
      }
    ]
  },
  {
    "width": 634, "height": 116,
    "title": {"text": "b", "fontSize": 38, "anchor": "start", "frame": "group", "dx": -167, "offset": 0},
    "layer": [
      {"data": {"name": "corr"}, "mark": {"type": "point", "filled": true, "size": 80, "fill": "black", "fillOpacity": 0.12, "stroke": "black", "strokeOpacity": 0.12, "strokeWidth": 1},
       "encoding": {
         "x": {"field": "c", "type": "quantitative", "scale": {"domain": [-0.5, 1.046], "nice": false, "zero": false}, "axis": {"values": [-0.5, 0, 0.5, 1], "format": ".1f", "title": "Mean Correlation Per Participant", "tickSize": 8, "labelPadding": 11, "titlePadding": 14}},
         "y": {"field": "m", "type": "nominal", "sort": ["Bayes", "UPCO", "Competence"], "scale": {"type": "band", "paddingInner": 0, "paddingOuter": 0.08}, "axis": {"title": null, "tickSize": 8, "labelPadding": 7, "labelFontSize": 22.5}},
         "yOffset": {"field": "j", "type": "quantitative", "scale": {"domain": [-0.5, 0.5]}}
       }},
      {"data": {"name": "means"}, "mark": {"type": "point", "filled": true, "size": 180, "color": "red", "opacity": 1},
       "encoding": {
         "x": {"field": "c", "type": "quantitative"},
         "y": {"field": "m", "type": "nominal", "sort": ["Bayes", "UPCO", "Competence"], "scale": {"type": "band"}}
       }}
    ]
  }
]
}
